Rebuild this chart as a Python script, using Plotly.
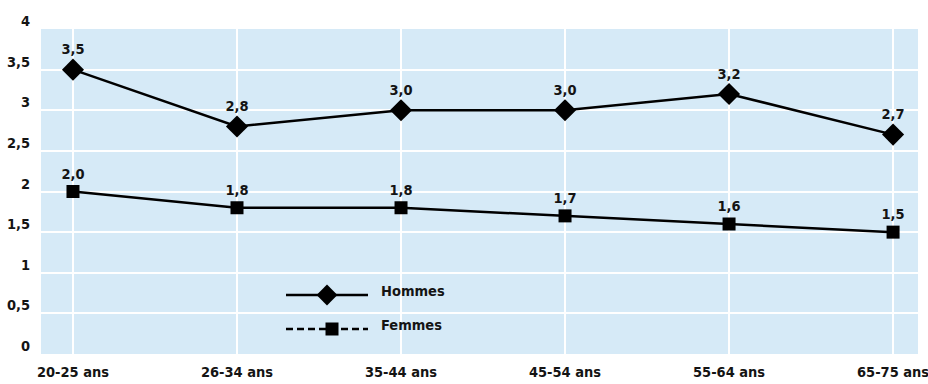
import plotly.graph_objects as go

# Age groups and averages per sex
categories = ["20-25 ans", "26-34 ans", "35-44 ans", "45-54 ans", "55-64 ans", "65-75 ans"]
hommes = [3.5, 2.8, 3.0, 3.0, 3.2, 2.7]
femmes = [2.0, 1.8, 1.8, 1.7, 1.6, 1.5]
y_ticks = [0, 0.5, 1, 1.5, 2, 2.5, 3, 3.5, 4]
series_names = ["Hommes", "Femmes"]

FONT = "DejaVu Sans Condensed"
INK = "#141414"
BG = "#d6eaf7"

W, H = 928, 384
ML, MR, MT, MB = 41, 10, 29, 30

x_idx = list(range(len(categories)))


def font(size):
    return dict(family=FONT, size=size, color=INK, weight="bold")


fig = go.Figure()

fig.add_trace(go.Scatter(
    x=x_idx, y=hommes, mode="lines+markers+text",
    name=series_names[0], showlegend=False,
    line=dict(color="black", width=2.5),
    marker=dict(symbol="diamond", size=17, color="black"),
    text=hommes, texttemplate="%{y:.1f}", textposition="top center",
    textfont=font(14.5),
    cliponaxis=False,
))
fig.add_trace(go.Scatter(
    x=x_idx, y=femmes, mode="lines+markers+text",
    name=series_names[1], showlegend=False,
    line=dict(color="black", width=2.5),
    marker=dict(symbol="square", size=13, color="black"),
    text=femmes, texttemplate="%{y:.1f}", textposition="top center",
    textfont=font(14.5),
    cliponaxis=False,
))

# Legend key drawn on an overlay axis measured in pixels of the plot area
key_x0, key_x1 = 286, 368
key_rows = [(295, "diamond", 16, "solid"), (329, "square", 13, "dash")]
for (ky, sym, sz, dash), name in zip(key_rows, series_names):
    fig.add_trace(go.Scatter(
        x=[key_x0, key_x1], y=[ky, ky], mode="lines", xaxis="x2", yaxis="y2",
        line=dict(color="black", width=2.5, dash="7px,4px" if dash == "dash" else "solid"),
        showlegend=False, hoverinfo="skip",
    ))
    fig.add_trace(go.Scatter(
        x=[(key_x0 + key_x1) / 2 + (0 if sym == "diamond" else 5)], y=[ky], mode="markers",
        xaxis="x2", yaxis="y2",
        marker=dict(symbol=sym, size=sz, color="black"),
        showlegend=False, hoverinfo="skip",
    ))
    fig.add_annotation(
        x=379, y=ky - 4, xref="x2", yref="y2", text=name, showarrow=False,
        xanchor="left", yanchor="middle",
        font=font(14.5),
    )

fig.update_layout(
    width=W, height=H,
    margin=dict(l=ML, r=MR, t=MT, b=MB, autoexpand=False),
    paper_bgcolor="white", plot_bgcolor=BG,
    separators=", ",
    showlegend=False,
    xaxis=dict(
        range=[-0.195, 5.152], tickvals=x_idx, ticktext=categories,
        showgrid=True, gridcolor="white", gridwidth=1.5,
        zeroline=False, showline=False, ticks="",
        tickfont=font(14.5), automargin=False, ticklabeloverflow="allow",
        ticklabelstandoff=7,
    ),
    yaxis=dict(
        range=[0, 4], tickvals=y_ticks,
        showgrid=True, gridcolor="white", gridwidth=1.5,
        zeroline=False, showline=False, ticks="",
        tickfont=font(14.5), automargin=False,
        ticklabelstandoff=10, ticklabelshift=-8,
    ),
    xaxis2=dict(range=[ML, W - MR], overlaying="x", visible=False, fixedrange=True),
    yaxis2=dict(range=[H - MB, MT], overlaying="y", visible=False, fixedrange=True),
)

fig.write_html("out.html")
